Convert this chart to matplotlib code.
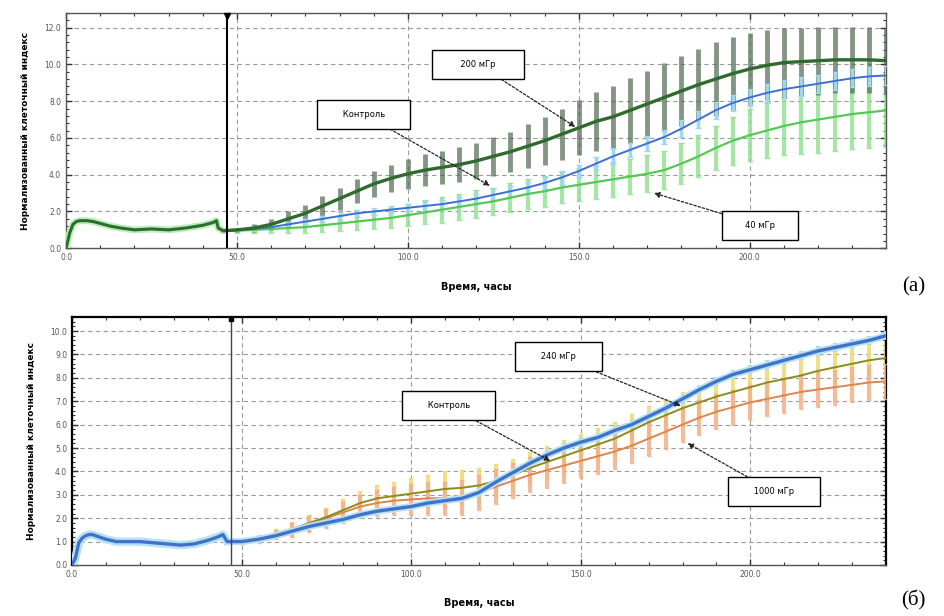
import matplotlib
matplotlib.use("Agg")
import matplotlib.pyplot as plt
from matplotlib.ticker import MultipleLocator, AutoMinorLocator, FormatStrFormatter

# --- data ---------------------------------------------------------------
# time before the irradiation point (h)
t_pre_a = [0, 1, 2, 3, 4, 6, 8, 10, 13, 16, 20, 25, 30, 35, 40, 43, 44, 44.5, 45.5]
pre_a = [0.0, 0.8, 1.3, 1.45, 1.5, 1.5, 1.45, 1.35, 1.2, 1.1, 1.0, 1.05, 1.0, 1.1, 1.25, 1.4, 1.5, 1.1, 1.0]

t_pre_b = [0, 1, 2, 3, 4, 5, 6, 8, 10, 13, 16, 20, 24, 28, 32, 36, 40, 43, 44.5, 45.5]
pre_b = [0.0, 0.3, 0.95, 1.15, 1.25, 1.3, 1.3, 1.2, 1.1, 1.0, 1.0, 1.0, 0.95, 0.9, 0.85, 0.9, 1.05, 1.2, 1.3, 1.05]

# time after the irradiation point (h)
t_post = [46, 50, 55, 60, 65, 70, 75, 80, 85, 90,
          95, 100, 105, 110, 115, 120, 125, 130, 135, 140,
          145, 150, 155, 160, 165, 170, 175, 180, 185, 190,
          195, 200, 205, 210, 215, 220, 225, 230, 235, 240]

# panel (a)
ctrl_a = [0.95, 1.0, 1.05, 1.15, 1.3, 1.45, 1.6, 1.75, 1.9, 2.0,
          2.1, 2.2, 2.3, 2.4, 2.55, 2.7, 2.9, 3.1, 3.3, 3.55,
          3.85, 4.2, 4.6, 5.0, 5.35, 5.7, 6.05, 6.5, 7.0, 7.5,
          7.9, 8.2, 8.45, 8.65, 8.8, 8.95, 9.1, 9.25, 9.35, 9.4]
err_ctrl_a = [0.05, 0.05, 0.1, 0.1, 0.15, 0.15, 0.15, 0.2, 0.2, 0.2,
              0.2, 0.2, 0.25, 0.25, 0.25, 0.25, 0.3, 0.3, 0.3, 0.3,
              0.35, 0.35, 0.35, 0.4, 0.4, 0.4, 0.4, 0.45, 0.45, 0.45,
              0.45, 0.45, 0.5, 0.5, 0.5, 0.5, 0.5, 0.5, 0.5, 0.5]
dose40_a = [0.95, 0.95, 1.0, 1.05, 1.1, 1.15, 1.25, 1.35, 1.45, 1.55,
            1.65, 1.8, 1.95, 2.1, 2.25, 2.4, 2.55, 2.75, 2.95, 3.1,
            3.3, 3.45, 3.6, 3.75, 3.9, 4.05, 4.25, 4.6, 5.0, 5.45,
            5.85, 6.15, 6.4, 6.65, 6.85, 7.0, 7.15, 7.3, 7.4, 7.5]
err40_a = [0.05, 0.1, 0.15, 0.2, 0.25, 0.3, 0.35, 0.4, 0.45, 0.5,
           0.55, 0.6, 0.65, 0.7, 0.7, 0.75, 0.75, 0.8, 0.8, 0.85,
           0.85, 0.9, 0.9, 0.95, 0.95, 1.0, 1.05, 1.1, 1.15, 1.2,
           1.3, 1.4, 1.5, 1.6, 1.7, 1.8, 1.85, 1.9, 1.95, 2.0]
dose200_a = [0.95, 1.0, 1.1, 1.3, 1.6, 1.9, 2.3, 2.7, 3.1, 3.5,
             3.8, 4.05, 4.25, 4.4, 4.55, 4.75, 5.0, 5.25, 5.55, 5.85,
             6.2, 6.55, 6.9, 7.15, 7.5, 7.85, 8.2, 8.55, 8.9, 9.2,
             9.5, 9.75, 9.95, 10.1, 10.15, 10.2, 10.25, 10.25, 10.25, 10.2]
err200_a = [0.05, 0.1, 0.2, 0.3, 0.4, 0.45, 0.55, 0.6, 0.65, 0.7,
            0.75, 0.8, 0.85, 0.9, 0.95, 1.0, 1.05, 1.1, 1.2, 1.3,
            1.4, 1.5, 1.6, 1.7, 1.75, 1.8, 1.85, 1.9, 1.95, 2.0,
            2.0, 1.95, 1.9, 1.9, 1.85, 1.85, 1.8, 1.8, 1.8, 1.8]

# panel (б)
ctrl_b = [1.0, 1.0, 1.1, 1.25, 1.45, 1.65, 1.8, 1.95, 2.15, 2.3,
          2.4, 2.5, 2.65, 2.75, 2.85, 3.1, 3.55, 3.95, 4.35, 4.7,
          5.0, 5.25, 5.45, 5.75, 6.0, 6.35, 6.7, 7.1, 7.5, 7.85,
          8.15, 8.35, 8.55, 8.75, 8.95, 9.15, 9.3, 9.45, 9.6, 9.8]
err_ctrl_b = [0.05, 0.05, 0.1, 0.1, 0.1, 0.1, 0.15, 0.15, 0.15, 0.15,
              0.15, 0.15, 0.15, 0.15, 0.15, 0.2, 0.2, 0.2, 0.2, 0.2,
              0.2, 0.2, 0.2, 0.2, 0.2, 0.2, 0.2, 0.2, 0.2, 0.2,
              0.2, 0.2, 0.2, 0.2, 0.2, 0.2, 0.2, 0.2, 0.2, 0.2]
dose240_b = [1.0, 1.0, 1.15, 1.35, 1.55, 1.8, 2.05, 2.35, 2.65, 2.85,
             2.95, 3.05, 3.15, 3.25, 3.3, 3.4, 3.6, 3.85, 4.15, 4.4,
             4.65, 4.9, 5.15, 5.4, 5.75, 6.1, 6.4, 6.7, 6.95, 7.2,
             7.4, 7.6, 7.8, 7.95, 8.1, 8.3, 8.45, 8.6, 8.75, 8.85]
err240_b = [0.05, 0.1, 0.15, 0.2, 0.3, 0.35, 0.4, 0.45, 0.5, 0.55,
            0.6, 0.65, 0.7, 0.75, 0.75, 0.75, 0.7, 0.7, 0.7, 0.7,
            0.7, 0.7, 0.7, 0.7, 0.7, 0.7, 0.7, 0.7, 0.7, 0.7,
            0.7, 0.7, 0.7, 0.7, 0.7, 0.7, 0.7, 0.7, 0.7, 0.7]
dose1000_b = [1.0, 1.0, 1.1, 1.3, 1.5, 1.75, 2.0, 2.25, 2.5, 2.65,
              2.75, 2.8, 2.85, 2.85, 2.9, 3.1, 3.35, 3.6, 3.85, 4.05,
              4.25, 4.45, 4.65, 4.85, 5.1, 5.4, 5.7, 6.0, 6.3, 6.55,
              6.75, 6.95, 7.1, 7.25, 7.4, 7.5, 7.6, 7.7, 7.8, 7.85]
err1000_b = [0.05, 0.1, 0.15, 0.2, 0.3, 0.35, 0.4, 0.45, 0.5, 0.55,
             0.6, 0.65, 0.7, 0.7, 0.75, 0.75, 0.75, 0.75, 0.75, 0.75,
             0.75, 0.75, 0.75, 0.75, 0.75, 0.75, 0.75, 0.75, 0.75, 0.75,
             0.75, 0.75, 0.75, 0.75, 0.75, 0.75, 0.75, 0.75, 0.75, 0.75]

t_irr = 47  # moment of irradiation (h)

xlabel = "Время, часы"
ylabel = "Нормализованный клеточный индекс"

plt.rcParams['font.family'] = ['DejaVu Sans']

fig = plt.figure(figsize=(9.44, 6.16), dpi=100)
ax1 = fig.add_axes([0.070, 0.597, 0.869, 0.382])
ax2 = fig.add_axes([0.0763, 0.0828, 0.8623, 0.4026])


def style_axes(ax, ymax, ystep):
    ax.set_xlim(0, 240)
    ax.set_ylim(0, ymax)
    ax.xaxis.set_major_locator(MultipleLocator(50))
    ax.xaxis.set_minor_locator(MultipleLocator(10))
    ax.yaxis.set_major_locator(MultipleLocator(ystep))
    ax.yaxis.set_minor_locator(AutoMinorLocator(5))
    ax.xaxis.set_major_formatter(FormatStrFormatter('%.1f'))
    ax.yaxis.set_major_formatter(FormatStrFormatter('%.1f'))
    ax.tick_params(which='both', direction='in', top=True, right=True,
                   labelsize=5.5, labelcolor='#555555', color='#333333')
    ax.tick_params(which='major', length=4, width=1)
    ax.tick_params(which='minor', length=2, width=0.8)
    ax.grid(True, which='major', color='#9a9a9a', linestyle=(0, (4, 3)), lw=0.8)
    ax.set_axisbelow(True)
    for s in ax.spines.values():
        s.set_color('#555555')
        s.set_linewidth(1.0)
    ax.set_xlabel(xlabel, fontsize=7, fontweight='bold', labelpad=14)
    ax.set_ylabel(ylabel, fontsize=6.5, fontweight='bold', labelpad=10)


def label_box(ax, text, xy, xytext):
    ax.annotate(text, xy=xy, xytext=xytext, fontsize=6, ha='center', va='center',
                bbox=dict(boxstyle='square,pad=1.2', fc='white', ec='black', lw=1),
                arrowprops=dict(arrowstyle='-|>', color='#222222', lw=0.9,
                                ls=(0, (2, 1.5)), mutation_scale=8,
                                shrinkA=0, shrinkB=0),
                zorder=10)


# ---- panel (a) ----
style_axes(ax1, 12.8, 2)
ax1.errorbar(t_post, dose40_a, yerr=err40_a, fmt='none', ecolor='#8fe08f',
             elinewidth=3, capsize=2, alpha=0.8, zorder=2)
ax1.errorbar(t_post, dose200_a, yerr=err200_a, fmt='none', ecolor='#4f6a4f',
             elinewidth=3.5, capsize=0, alpha=0.7, zorder=3)
ax1.errorbar(t_post, ctrl_a, yerr=err_ctrl_a, fmt='none', ecolor='#9fd6f2',
             elinewidth=2.5, capsize=2, zorder=4)
ax1.plot(t_pre_a, pre_a, color='#b8f0b8', lw=5, zorder=4)
ax1.plot(t_pre_a, pre_a, color='#2f6a2f', lw=2.2, zorder=6)
ax1.plot(t_post, dose40_a, color='#54c854', lw=1.6, zorder=5)
ax1.plot(t_post, ctrl_a, color='#3d6fd0', lw=1.4, zorder=5)
ax1.plot(t_post, dose200_a, color='#2f6a2f', lw=2.4, zorder=6)
ax1.axvline(t_irr, color='black', lw=1.5, zorder=7)
ax1.plot([t_irr], [12.65], marker='v', color='black', ms=5, zorder=8, clip_on=False)

label_box(ax1, "       200 мГр       ", (149, 6.6), (120.5, 10.0))
label_box(ax1, "      Контроль      ", (124, 3.4), (87, 7.3))
label_box(ax1, "     40 мГр     ", (172, 3.0), (203, 1.25))

# ---- panel (б) ----
style_axes(ax2, 10.6, 1)
ax2.errorbar(t_post, dose240_b, yerr=err240_b, fmt='none', ecolor='#eedc7a',
             elinewidth=3, capsize=1.5, alpha=0.9, zorder=2)
ax2.errorbar(t_post, dose1000_b, yerr=err1000_b, fmt='none', ecolor='#f3b08a',
             elinewidth=3, capsize=1.5, alpha=0.85, zorder=3)
ax2.errorbar(t_post, ctrl_b, yerr=err_ctrl_b, fmt='none', ecolor='#a8dcf5',
             elinewidth=3, capsize=0, zorder=4)
ax2.plot(t_pre_b, pre_b, color='#b5e2f7', lw=6, zorder=4)
ax2.plot(t_pre_b, pre_b, color='#4272c8', lw=2.4, zorder=6)
ax2.plot(t_post, dose1000_b, color='#e0834e', lw=1.4, zorder=5)
ax2.plot(t_post, dose240_b, color='#8c8c1c', lw=1.4, zorder=5)
ax2.plot(t_post, ctrl_b, color='#b5e2f7', lw=5, zorder=5)
ax2.plot(t_post, ctrl_b, color='#4272c8', lw=2.4, zorder=6)
ax2.axvline(t_irr, color='#444444', lw=1.0, zorder=7)
ax2.plot([t_irr], [10.5], marker='s', color='black', ms=3, zorder=8, clip_on=False)
for s in ('left', 'right', 'top'):
    ax2.spines[s].set_linewidth(1.6)
    ax2.spines[s].set_color('black')

label_box(ax2, "      240 мГр      ", (179.5, 6.8), (143.5, 8.9))
label_box(ax2, "      Контроль      ", (141, 4.45), (111, 6.8))
label_box(ax2, "      1000 мГр      ", (181.5, 5.2), (207, 3.13))

fig.text(0.980, 1 - 287 / 616, "(а)", fontsize=15, family='Liberation Serif',
         ha='right', va='center')
fig.text(0.980, 1 - 600 / 616, "(б)", fontsize=15, family='Liberation Serif',
         ha='right', va='center')

fig.savefig("out.png", dpi=100)
